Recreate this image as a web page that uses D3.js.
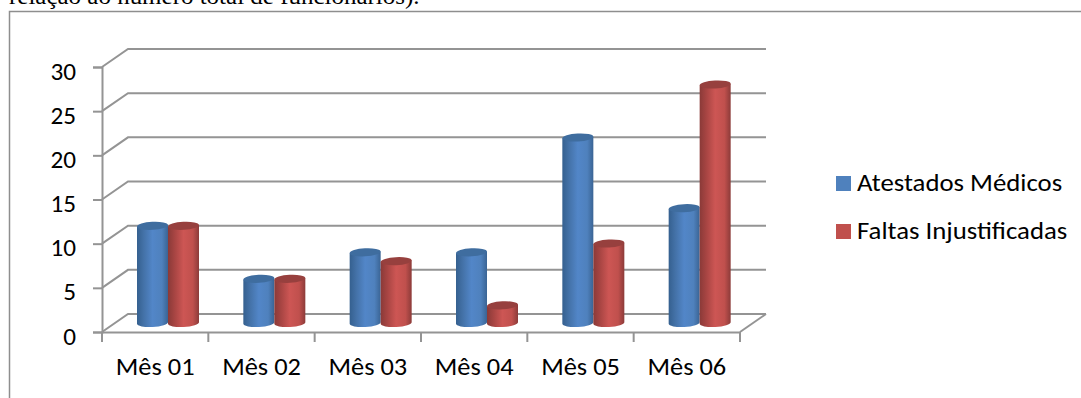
<!DOCTYPE html>
<html><head><meta charset="utf-8">
<style>html,body{margin:0;padding:0;background:#fff}svg{display:block}</style>
<script src="https://cdn.jsdelivr.net/npm/d3@7/dist/d3.min.js"></script></head>
<body><svg id="c" width="1081" height="398"></svg>
<script>
const categories = ["Mês 01","Mês 02","Mês 03","Mês 04","Mês 05","Mês 06"];
const seriesNames = ["Atestados Médicos","Faltas Injustificadas"];
const atestados = [11,5,8,8,21,13];
const faltas = [11,5,7,2,9,27];
const yTicks = [0,5,10,15,20,25,30];
const caption = "relação ao número total de funcionários).";
const fills = ["#4f81bd","#c0504d"];
const gradStops = [["#35608f","#4472a8","#5286c8","#4f81bd","#3a6494"],["#8a3a38","#a84543","#cd5654","#c0504d","#8c3b39"]];

const svg = d3.select("#c");
const font = "Carlito, Calibri, 'Open Sans', 'Noto Sans', sans-serif";
const axisCol = "#949494";

// Widens a text selection horizontally while keeping it as live text
function stretch(sel, k) {
  sel.each(function () {
    this.setAttribute("lengthAdjust", "spacingAndGlyphs");
    this.setAttribute("textLength", this.getComputedTextLength() * k);
  });
}

// Cylinder shading across the width of each bar
const defs = svg.append("defs");
gradStops.forEach((stops,i)=>{
  const g = defs.append("linearGradient").attr("id","cyl"+i);
  [0,.22,.5,.8,1].forEach((o,j)=>g.append("stop").attr("offset",o).attr("stop-color",stops[j]));
});

// Caption line and surrounding frame
svg.append("text").attr("x",9).attr("y",4).attr("font-family","'Liberation Serif',serif").attr("font-size",22.5).attr("fill","#000").text(caption).call(stretch,1.11);
svg.append("path").attr("d","M9.5,398V11.5H1081").attr("fill","none").attr("stroke","#8e8e8e").attr("stroke-width",1.5);

// Scales for the front plane and the depth offset of the back wall
const x = d3.scaleBand().domain(categories).range([102,740]);
const y = d3.scaleLinear().domain([0,30]).range([332,67]);
const depthX = 26, depthY = -18;

// Gridlines running along the floor edge and back wall
const grid = svg.append("g").attr("fill","none").attr("stroke",axisCol).attr("stroke-width",2);
yTicks.forEach(t=>{
  grid.append("path").attr("d",`M${x.range()[0]},${y(t)}L${x.range()[0]+depthX},${y(t)+depthY}H${x.range()[1]+depthX}`);
});
grid.append("path").attr("d",`M${x.range()[1]+depthX},${y(0)+depthY}L${x.range()[1]},${y(0)}`);

// Front axes with their tick labels
const yAxis = d3.axisLeft(y).tickValues(yTicks).tickSize(9).tickPadding(17);
const gy = svg.append("g").attr("transform","translate(102,0)").call(yAxis);
const xAxis = d3.axisBottom(x).tickSize(0).tickPadding(26);
const gx = svg.append("g").attr("transform",`translate(0,${y(0)})`).call(xAxis);
[gy,gx].forEach(g=>{
  g.selectAll("path.domain,line").attr("stroke",axisCol).attr("stroke-width",2);
  g.selectAll("text").attr("font-family",font).attr("font-size",24).attr("fill","#000");
});
gy.selectAll("text").attr("dy","0.5em").call(stretch,1.05);
gx.selectAll("text").call(stretch,1.1);
gx.selectAll(".bound").data(d3.range(categories.length+1)).join("line").attr("class","bound")
  .attr("x1",i=>102+i*x.step()).attr("x2",i=>102+i*x.step()).attr("y1",0).attr("y2",10)
  .attr("stroke",axisCol).attr("stroke-width",2);

// Cylinders: floor position sits midway into the chart depth
const inner = d3.scaleBand().domain(seriesNames).range([0,62]).paddingInner(0);
const baseOffset = -9, ry = 4, tilt = -3, topCols = ["#3f6d9f","#97403e"];
const bars = svg.append("g");
categories.forEach((c,ci)=>{
  [atestados,faltas].forEach((vals,si)=>{
    const w = inner.bandwidth();
    const bx = x(c)+35+inner(seriesNames[si]);
    const top = y(vals[ci])+baseOffset, base = y(0)+baseOffset;
    const lift = (w/2)*Math.tan(-tilt*Math.PI/180);
    bars.append("path").attr("fill",`url(#cyl${si})`)
      .attr("d",`M${bx},${top+lift}L${bx},${base+lift}A${w/2},${ry} ${tilt} 0 0 ${bx+w},${base-lift}L${bx+w},${top-lift}Z`);
    bars.append("ellipse").attr("cx",bx+w/2).attr("cy",top).attr("rx",w/2).attr("ry",ry).attr("fill",topCols[si])
      .attr("transform",`rotate(${tilt} ${bx+w/2} ${top})`);
  });
});

// Legend
const leg = svg.append("g");
seriesNames.forEach((n,i)=>{
  leg.append("rect").attr("x",836).attr("y",176+i*48).attr("width",15).attr("height",15).attr("fill",fills[i]);
  leg.append("text").attr("x",857).attr("y",191+i*48).attr("font-family",font).attr("font-size",24).attr("fill","#000").text(n).call(stretch,1.115);
});
</script></body></html>
